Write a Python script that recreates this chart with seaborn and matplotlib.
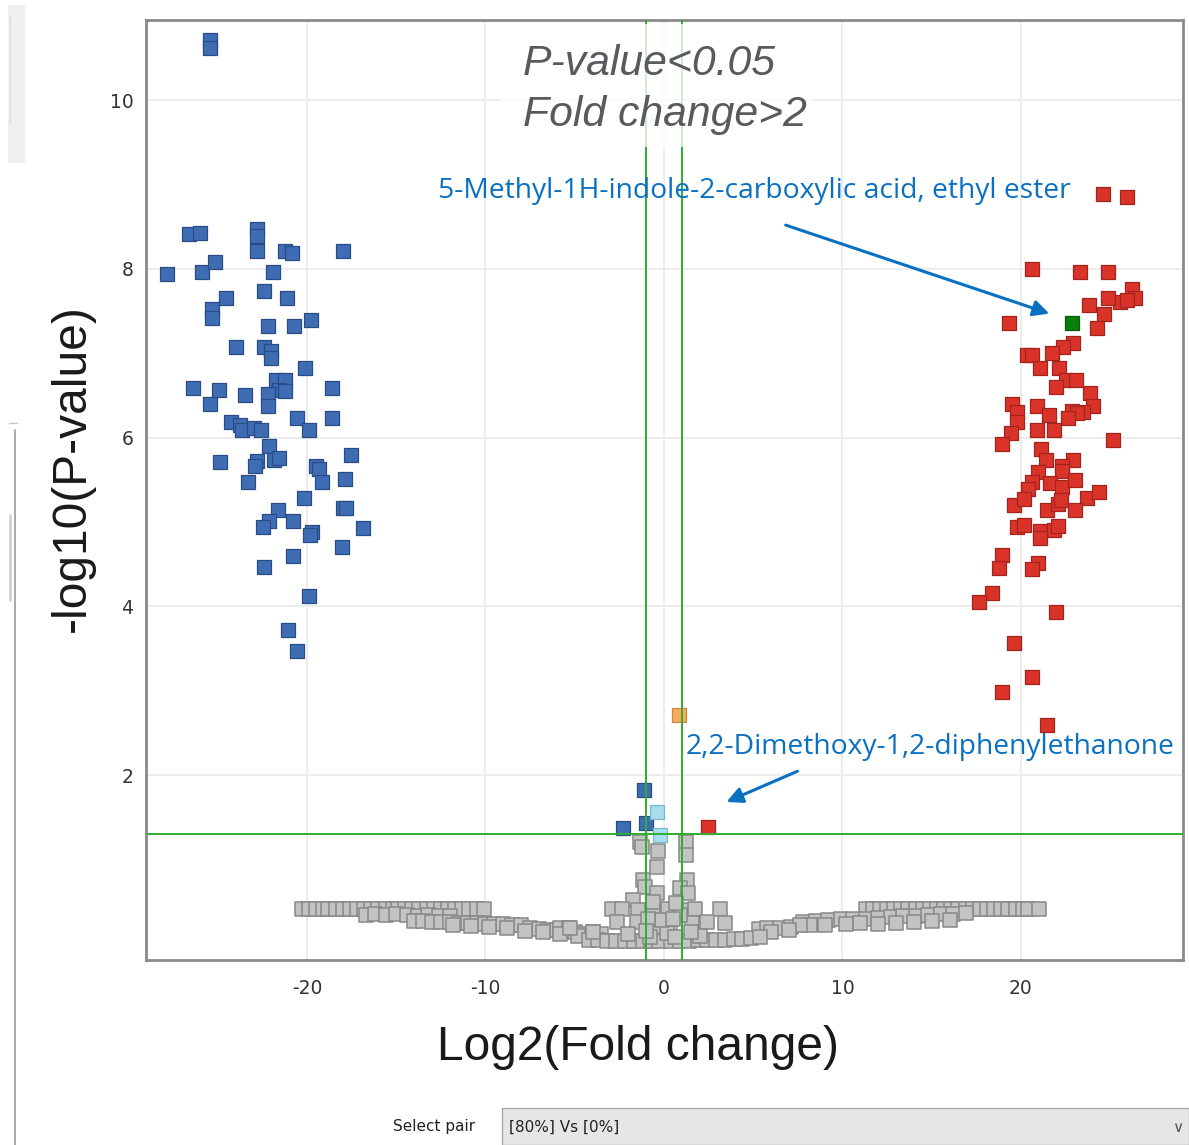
import numpy as np
import pandas as pd
import matplotlib
matplotlib.use("Agg")
import matplotlib.pyplot as plt
import seaborn as sns
from matplotlib.patches import Rectangle
from matplotlib.lines import Line2D

# ---------------- data ----------------
blue_x = [-25.43, -25.43, -26.61, -25.99, -22.80, -22.80, -22.80, -21.23, -20.84, -17.98,
          -27.84, -25.88, -25.15, -21.90, -22.41, -21.12, -24.54, -25.32, -25.32, -19.78,
          -22.18, -20.73, -23.98, -22.41, -22.02, -22.02, -20.11, -26.39, -24.93, -25.43,
          -23.47, -21.74, -21.23, -21.57, -21.23, -22.18, -22.18, -18.60, -24.26, -23.75,
          -23.64, -22.97, -22.58, -20.56, -18.60, -19.89, -22.13, -24.87, -22.80, -22.91,
          -21.85, -21.57, -17.54, -19.50, -19.33, -23.31, -19.16, -17.87, -20.17, -17.98,
          -17.82, -21.62, -22.13, -22.46, -20.78, -19.72, -19.83, -16.86, -18.04, -20.78,
          -22.41, -19.89, -21.06, -20.56,
          -1.12, -1.01, -2.30]
blue_y = [10.71, 10.62, 8.41, 8.43, 8.47, 8.39, 8.21, 8.21, 8.19, 8.21,
          7.94, 7.96, 8.08, 7.96, 7.74, 7.65, 7.65, 7.53, 7.42, 7.40,
          7.32, 7.32, 7.07, 7.07, 7.03, 6.95, 6.82, 6.59, 6.56, 6.40,
          6.50, 6.68, 6.68, 6.56, 6.55, 6.52, 6.37, 6.59, 6.19, 6.15,
          6.09, 6.11, 6.09, 6.23, 6.23, 6.09, 5.90, 5.71, 5.72, 5.66,
          5.74, 5.76, 5.80, 5.66, 5.63, 5.47, 5.47, 5.51, 5.28, 5.17,
          5.17, 5.14, 5.01, 4.94, 5.01, 4.88, 4.85, 4.93, 4.70, 4.60,
          4.47, 4.12, 3.72, 3.47,
          1.83, 1.43, 1.38]

red_x = [24.59, 25.94, 20.62, 23.31, 24.87, 26.22, 26.39, 25.55, 25.94, 24.87,
         23.81, 24.65, 19.33, 24.26, 22.91, 22.35, 21.74, 20.34, 20.62, 21.06,
         22.13, 22.52, 23.08, 21.96, 23.87, 24.03, 23.47, 19.50, 19.78, 19.78,
         19.44, 18.94, 20.90, 21.57, 22.86, 23.14, 22.63, 20.90, 21.85, 25.15,
         21.12, 21.40, 22.91, 22.30, 22.30, 20.95, 20.62, 20.39, 21.62, 22.30,
         23.03, 19.61, 20.17, 23.70, 24.37, 21.46, 22.07, 22.24, 23.03, 19.78,
         20.17, 21.06, 21.06, 21.85, 22.07, 18.94, 18.77, 20.95, 20.62, 18.38,
         17.65, 21.96, 19.61, 20.62, 18.94, 21.46,
         2.46]
red_y = [8.89, 8.85, 8.00, 7.96, 7.96, 7.76, 7.65, 7.61, 7.63, 7.65,
         7.57, 7.46, 7.36, 7.30, 7.12, 7.07, 7.00, 6.98, 6.98, 6.82,
         6.82, 6.68, 6.68, 6.60, 6.53, 6.37, 6.31, 6.40, 6.31, 6.18,
         6.06, 5.93, 6.37, 6.27, 6.32, 6.29, 6.23, 6.09, 6.09, 5.97,
         5.86, 5.73, 5.73, 5.67, 5.61, 5.59, 5.47, 5.39, 5.46, 5.41,
         5.50, 5.20, 5.27, 5.29, 5.36, 5.14, 5.22, 5.26, 5.14, 4.94,
         4.97, 4.89, 4.81, 4.91, 4.95, 4.61, 4.45, 4.52, 4.44, 4.16,
         4.05, 3.94, 3.57, 3.16, 2.99, 2.60,
         1.39]

green_x = [22.86]
green_y = [7.36]
lightblue_x = [-0.39, -0.22]
lightblue_y = [1.56, 1.29]
orange_x = [0.84]
orange_y = [2.71]

gray_x = [
    # left top row
    -20.3, -19.9, -19.5, -19.1, -18.8, -18.4, -18.0, -17.6, -17.2, -16.8, -16.4, -16.0, -15.6, -15.2,
    -14.9, -14.5, -14.1, -13.7, -13.3, -12.9, -12.5, -12.1, -11.7, -11.3, -10.9, -10.5, -10.1,
    # left second layer
    -16.7, -16.2, -15.6, -15.0, -14.4, -13.8, -13.2, -12.6, -12.0,
    # left third layer
    -14.0, -13.5, -13.0, -12.5, -12.0, -11.5, -11.0, -10.5, -10.0, -9.5, -9.0, -8.5, -8.0,
    -11.8, -10.8, -9.8, -8.8,
    # left fourth layer
    -7.5, -7.0, -6.5, -6.0, -5.5, -5.0, -4.5, -5.8, -5.3, -4.0, -3.5,
    -7.8, -6.8, -5.8, -4.8,
    # left bottom row
    -4.2, -3.7, -3.2, -2.7, -2.2, -1.7, -1.2, -0.7, -0.3,
    # right top row
    11.3, 11.7, 12.1, 12.5, 12.9, 13.3, 13.7, 14.1, 14.5, 14.9, 15.3, 15.7, 16.1, 16.5, 16.9,
    17.3, 17.7, 18.1, 18.5, 18.9, 19.3, 19.7, 20.1, 20.4, 21.0,
    # right second layer
    7.8, 8.5, 9.2, 9.9, 10.6, 11.3, 12.0, 12.7, 13.4, 14.1, 14.8, 15.5, 16.2, 16.9,
    12.0, 13.0, 14.0, 15.0, 16.0, 8.2, 9.0, 10.2, 11.0,
    # right third layer
    5.3, 5.8, 6.5, 7.1, 7.6, 6.0, 7.0,
    # right bottom row
    0.4, 0.9, 1.4, 1.9, 2.4, 2.9, 3.4, 3.9, 4.4, 4.9, 5.4,
    # centre cluster
    -1.34, -1.23, 1.23, 1.23, -0.34, -0.39, -1.18, -1.06, -0.39, 1.29, 0.90, 1.34, -1.74,
    -2.91, -2.35, -1.46, -0.62, 0.22, 1.06, 1.74, 3.14, -2.63, -1.51, -0.39, 0.34, 1.57,
    2.41, 3.42, -5.27, -3.98, 0.17, -0.78, 0.62, -0.10, -0.90, 0.90, 2.00,
    -2.0, -1.0, 0.5, 1.5, -0.6, 0.7,
]
gray_y = [
    0.42, 0.41, 0.42, 0.42, 0.41, 0.42, 0.42, 0.41, 0.42, 0.42, 0.41, 0.42, 0.42, 0.41,
    0.42, 0.42, 0.41, 0.42, 0.42, 0.41, 0.42, 0.42, 0.41, 0.42, 0.42, 0.41, 0.42,
    0.34, 0.35, 0.34, 0.35, 0.34, 0.33, 0.34, 0.33, 0.33,
    0.27, 0.27, 0.26, 0.26, 0.26, 0.25, 0.25, 0.25, 0.24, 0.24, 0.24, 0.23, 0.22,
    0.22, 0.21, 0.20, 0.19,
    0.19, 0.18, 0.17, 0.16, 0.15, 0.14, 0.12, 0.19, 0.19, 0.14, 0.12,
    0.15, 0.14, 0.12, 0.10,
    0.05, 0.05, 0.04, 0.04, 0.04, 0.03, 0.03, 0.03, 0.03,
    0.42, 0.42, 0.41, 0.42, 0.42, 0.41, 0.42, 0.42, 0.41, 0.42, 0.42, 0.41, 0.42, 0.42, 0.41,
    0.42, 0.42, 0.41, 0.42, 0.42, 0.41, 0.42, 0.42, 0.42, 0.42,
    0.26, 0.27, 0.28, 0.29, 0.30, 0.30, 0.31, 0.32, 0.33, 0.33, 0.34, 0.35, 0.36, 0.37,
    0.24, 0.25, 0.26, 0.27, 0.28, 0.22, 0.23, 0.24, 0.25,
    0.18, 0.19, 0.19, 0.20, 0.22, 0.14, 0.16,
    0.04, 0.04, 0.04, 0.05, 0.05, 0.05, 0.05, 0.06, 0.06, 0.07, 0.08,
    1.21, 1.15, 1.21, 1.05, 1.10, 0.91, 0.76, 0.67, 0.60, 0.76, 0.66, 0.60, 0.52,
    0.42, 0.42, 0.40, 0.40, 0.42, 0.40, 0.42, 0.42, 0.26, 0.26, 0.20, 0.20, 0.25,
    0.26, 0.25, 0.19, 0.14, 0.13, 0.08, 0.08, 0.28, 0.30, 0.34, 0.10,
    0.12, 0.15, 0.30, 0.14, 0.50, 0.48,
]

x_ticks = [-20, -10, 0, 10, 20]
x_tick_labels = ["-20", "-10", "0", "10", "20"]
y_ticks = [2, 4, 6, 8, 10]
y_tick_labels = ["2", "4", "6", "8", "10"]
fc_threshold = 1.0
p_threshold = -np.log10(0.05)

# ---------------- figure ----------------
sns.set_style("whitegrid")
plt.rcParams['font.family'] = ['Liberation Sans', 'DejaVu Sans']

W, H = 1189, 1145
fig = plt.figure(figsize=(W / 100, H / 100), dpi=100)
fig.patch.set_facecolor("white")
ax = fig.add_axes([146 / W, 1 - 960 / H, (1183 - 146) / W, (960 - 20) / H])

groups = [
    (gray_x, gray_y, "#c3c3c3", "#888888", 88, 1.1),
    (blue_x, blue_y, "#3f6db4", "#2a4c86", 95, 0.9),
    (red_x, red_y, "#d9332a", "#a3241d", 95, 0.9),
    (green_x, green_y, "#0b7d0b", "#075c07", 95, 0.9),
    (lightblue_x, lightblue_y, "#a9dced", "#7ab8cb", 95, 0.9),
    (orange_x, orange_y, "#f7ab5c", "#c98a44", 95, 0.9),
]
for gx, gy, fc, ec, s, lw in groups:
    df = pd.DataFrame({"x": gx, "y": gy})
    sns.scatterplot(data=df, x="x", y="y", ax=ax, marker="s", s=s, color=fc,
                    edgecolor=ec, linewidth=lw, zorder=2)

green_line = "#2fae2f"
ax.axvline(-fc_threshold, color=green_line, lw=1.4, zorder=3)
ax.axvline(fc_threshold, color=green_line, lw=1.4, zorder=3)
ax.axhline(p_threshold, color=green_line, lw=1.4, zorder=3)

ax.set_xlim(-29.02, 29.08)
ax.set_ylim(-0.19, 10.95)
ax.set_xticks(x_ticks)
ax.set_xticklabels(x_tick_labels)
ax.set_yticks(y_ticks)
ax.set_yticklabels(y_tick_labels)
ax.grid(True, color="#ececec", lw=1.4)
ax.set_axisbelow(True)
for sp in ax.spines.values():
    sp.set_color("#8a8a8a")
    sp.set_linewidth(2.0)
ax.tick_params(axis="both", colors="#8a8a8a", length=5, width=2, labelcolor="#333333",
               labelsize=13.5, pad=4)
for lab in ax.get_xticklabels() + ax.get_yticklabels():
    lab.set_family("DejaVu Sans")
ax.tick_params(axis="x", pad=14, length=0)

ax.set_xlabel("Log2(Fold change)", fontsize=34.5, color="#1a1a1a")
ax.set_ylabel("-log10(P-value)", fontsize=34.5, color="#1a1a1a")
ax.xaxis.label.set_va("center")
ax.yaxis.label.set_va("center")
ax.xaxis.set_label_coords((638 - 146) / 1037, (960 - 1047) / 940)
ax.yaxis.set_label_coords((72 - 146) / 1037, (960 - 468) / 940)

# translucent box behind the threshold legend text
ax.add_patch(Rectangle((-9.2, 9.44), 17.6, 1.46, facecolor="white", edgecolor="none",
                       alpha=0.78, zorder=4))
ax.text(-7.9, 10.43, "P-value<0.05", fontsize=30.8, style="italic", color="#585a5e",
        ha="left", va="center", zorder=5)
ax.text(-7.9, 9.83, "Fold change>2", fontsize=30.8, style="italic", color="#585a5e",
        ha="left", va="center", zorder=5)

# annotations
ann_color = "#0a70c2"
ax.text(-12.66, 8.92, "5-Methyl-1H-indole-2-carboxylic acid, ethyl ester",
        fontsize=20.3, color=ann_color, family=["Open Sans", "DejaVu Sans"],
        ha="left", va="center", zorder=6)
ax.annotate("", xy=(21.74, 7.46), xytext=(6.67, 8.53),
            arrowprops=dict(arrowstyle="-|>", color=ann_color, lw=2.2, mutation_scale=24),
            zorder=6)
ax.text(1.23, 2.34, "2,2-Dimethoxy-1,2-diphenylethanone",
        fontsize=20.3, color=ann_color, family=["Open Sans", "DejaVu Sans"],
        ha="left", va="center", zorder=6)
ax.annotate("", xy=(3.36, 1.67), xytext=(7.62, 2.06),
            arrowprops=dict(arrowstyle="-|>", color=ann_color, lw=2.2, mutation_scale=24),
            zorder=6)

# ---------------- window decorations ----------------
def fx(px):
    return px / W

def fy(py):
    return 1 - py / H

fig.add_artist(Rectangle((fx(8), fy(163)), fx(17), (163 - 5) / H, transform=fig.transFigure,
                         facecolor="#f0f0f0", edgecolor="none"))
fig.add_artist(Line2D([fx(10), fx(10)], [fy(17), fy(123)], transform=fig.transFigure,
                      color="#dcdcdc", lw=1))
fig.add_artist(Line2D([fx(15), fx(15)], [fy(430), fy(1145)], transform=fig.transFigure,
                      color="#9a9a9a", lw=1.2))
fig.add_artist(Line2D([fx(10), fx(10)], [fy(515), fy(600)], transform=fig.transFigure,
                      color="#d0d0d0", lw=2))
fig.add_artist(Line2D([fx(9), fx(17)], [fy(423), fy(423)], transform=fig.transFigure,
                      color="#c8c8c8", lw=1))

fig.text(fx(393), fy(1127), "Select pair", fontsize=11, family="DejaVu Sans",
         color="#222222", ha="left", va="center")
fig.add_artist(Rectangle((fx(502), 0), fx(W - 502), (1145 - 1108) / H, transform=fig.transFigure,
                         facecolor="#e6e6e6", edgecolor="#a8a8a8", lw=1))
fig.text(fx(509), fy(1127), "[80%] Vs [0%]", fontsize=11, family="DejaVu Sans",
         color="#222222", ha="left", va="center")
fig.text(fx(1178), fy(1128), "\u2228", fontsize=11, family="DejaVu Sans",
         color="#555555", ha="center", va="center")

fig.savefig("out.png", dpi=100)
